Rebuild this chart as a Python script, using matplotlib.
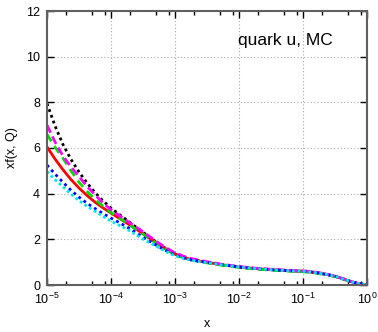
import matplotlib
matplotlib.use("Agg")
import matplotlib.pyplot as plt
from matplotlib.ticker import LogLocator, FixedLocator, NullFormatter

plt.rcParams['font.family'] = ['Liberation Sans', 'DejaVu Sans']
plt.rcParams['mathtext.default'] = 'regular'

# sampling points in x, given as decades
log_x = [-5.0, -4.875, -4.75, -4.625, -4.5, -4.375, -4.25, -4.125, -4.0,
         -3.875, -3.75, -3.625, -3.5, -3.375, -3.25, -3.125, -3.0,
         -2.875, -2.75, -2.625, -2.5, -2.25, -2.0, -1.75, -1.5, -1.25,
         -1.0, -0.875, -0.75, -0.625, -0.5, -0.375, -0.25, -0.125, 0.0]
x_vals = [10.0 ** v for v in log_x]

# large-x part shared by the sets
tail = [0.88, 0.79, 0.72, 0.67, 0.63, 0.60, 0.57, 0.52, 0.46, 0.38,
        0.27, 0.15, 0.06, 0.01]
tail_hi = [0.90, 0.81, 0.74, 0.69, 0.65, 0.62, 0.59, 0.54, 0.47, 0.39,
           0.28, 0.15, 0.06, 0.01]
tail_lo = [0.86, 0.77, 0.70, 0.65, 0.61, 0.58, 0.55, 0.50, 0.44, 0.37,
           0.26, 0.14, 0.05, 0.01]

xf_black = [7.95, 6.97, 6.15, 5.50, 4.95, 4.47, 4.05, 3.69, 3.37,
            3.10, 2.84, 2.57, 2.31, 2.05, 1.79, 1.56, 1.36,
            1.22, 1.12, 1.05, 0.99] + tail
xf_magenta = [7.00, 6.27, 5.65, 5.17, 4.75, 4.32, 3.95, 3.60, 3.30,
              3.05, 2.81, 2.57, 2.33, 2.08, 1.83, 1.61, 1.41,
              1.27, 1.16, 1.09, 1.02] + tail_hi
xf_green = [6.60, 6.04, 5.55, 5.00, 4.50, 4.10, 3.75, 3.45, 3.18,
            2.94, 2.71, 2.47, 2.23, 1.99, 1.75, 1.53, 1.34,
            1.20, 1.10, 1.03, 0.97] + tail_lo
xf_red = [6.05, 5.52, 5.05, 4.62, 4.25, 3.92, 3.63, 3.38, 3.15,
          2.93, 2.71, 2.48, 2.25, 2.01, 1.77, 1.55, 1.36,
          1.22, 1.12, 1.05, 0.99] + tail
xf_blue = [5.25, 4.86, 4.50, 4.15, 3.85, 3.58, 3.35, 3.13, 2.93,
           2.74, 2.54, 2.32, 2.09, 1.88, 1.67, 1.48, 1.31,
           1.19, 1.10, 1.04, 0.99] + tail
xf_cyan = [4.97, 4.62, 4.30, 3.98, 3.70, 3.45, 3.23, 3.01, 2.80,
           2.62, 2.44, 2.23, 2.01, 1.82, 1.63, 1.44, 1.28,
           1.17, 1.09, 1.03, 0.98] + tail

y_ticks = [0, 2, 4, 6, 8, 10, 12]
x_ticks = [1e-5, 1e-4, 1e-3, 1e-2, 1e-1, 1e0]
x_ticklabels = [r'$10^{-5}$', r'$10^{-4}$', r'$10^{-3}$',
                r'$10^{-2}$', r'$10^{-1}$', r'$10^{0}$']

fig = plt.figure(figsize=(3.78, 3.32), dpi=100)
ax = fig.add_axes([47 / 378, 47 / 332, 320 / 378, 274 / 332])

series = [
    (xf_black, 'black', (0, (1, 1.2))),
    (xf_red, '#ff0000', '-'),
    (xf_green, '#00dd00', (0, (3, 2))),
    (xf_magenta, '#ff00ff', (0, (3, 1.5))),
    (xf_blue, '#0000ff', (0, (1, 1.3))),
    (xf_cyan, '#00e5ee', (0, (1, 1))),
]
for vals, col, ls in series:
    ax.plot(x_vals, vals, color=col, linestyle=ls, linewidth=2.0,
            solid_capstyle='butt', dash_capstyle='butt')

ax.set_xscale('log')
ax.set_xlim(1e-5, 1.0)
ax.set_ylim(0, 12)

ax.xaxis.set_major_locator(FixedLocator(x_ticks))
ax.set_xticklabels(x_ticklabels)
ax.xaxis.set_minor_locator(LogLocator(base=10, subs=(2.0, 5.0, 8.0)))
ax.xaxis.set_minor_formatter(NullFormatter())
ax.set_yticks(y_ticks)

ax.tick_params(which='both', direction='in', top=True, right=True,
               labelsize=9, colors='black', pad=5)
ax.tick_params(which='major', length=5, width=1.0)
ax.tick_params(which='minor', length=3, width=1.0)

for sp in ax.spines.values():
    sp.set_color('#606060')
    sp.set_linewidth(1.5)

ax.grid(True, which='major', color='#aaaaaa', linestyle=(0, (1, 2)),
        linewidth=0.8)

ax.set_xlabel('x', fontsize=9, labelpad=8)
ax.set_ylabel('xf(x, Q)', fontsize=9, labelpad=6)
ax.text(0.598, 0.893, 'quark u, MC', transform=ax.transAxes, fontsize=12.5,
        ha='left', va='center')

fig.savefig('out.png', dpi=100)
